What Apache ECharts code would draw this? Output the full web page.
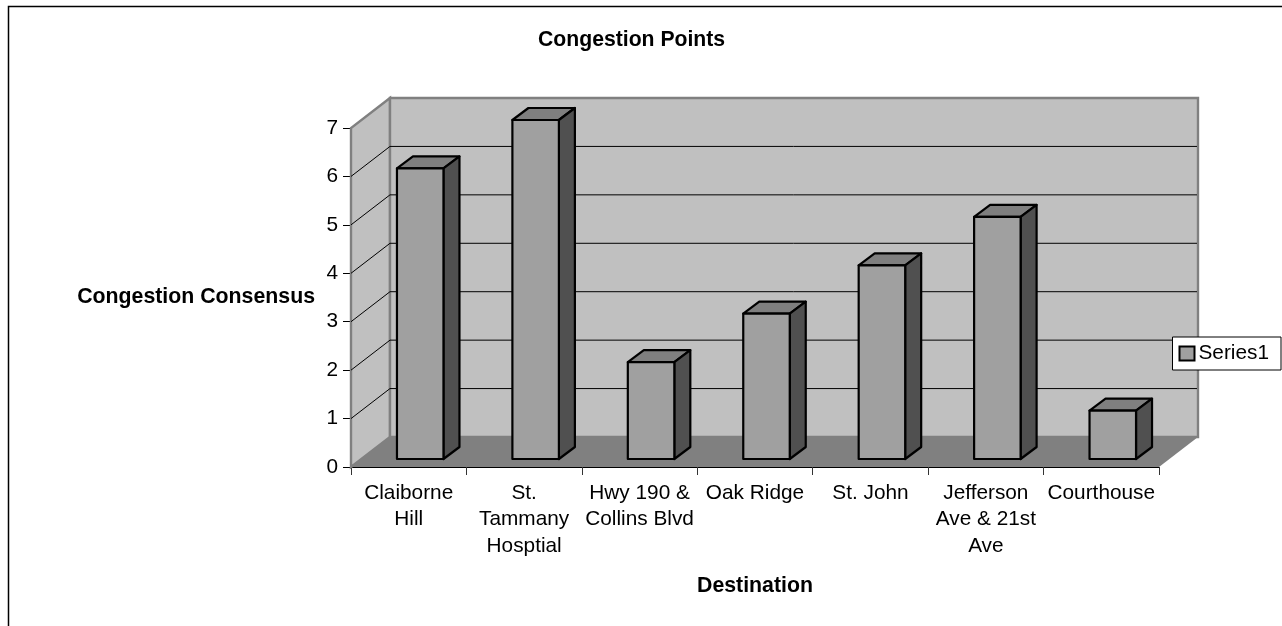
<!DOCTYPE html>
<html><head><meta charset="utf-8">
<style>html,body{margin:0;padding:0;background:#fff}#c{width:1282px;height:626px}</style>
<script src="https://cdn.jsdelivr.net/npm/echarts@6/dist/echarts.min.js"></script>
</head><body><div id="c"></div>
<script>
var categories = ['Claiborne\nHill','St.\nTammany\nHosptial','Hwy 190 &\nCollins Blvd','Oak Ridge','St. John','Jefferson\nAve & 21st\nAve','Courthouse'];
var values = [6,7,2,3,4,5,1];
var yTicks = [0,1,2,3,4,5,6,7];
var seriesName = 'Series1';
var FONT = '"Liberation Sans", Arial, sans-serif';

// 3D projection, expressed as fractions of one category width
var WALL_DX = 39/115.43, WALL_DY = 30/115.43;
var BAR_DX = 16/115.43, BAR_DY = 12/115.43;
var BAR_W = 46.5/115.43, BAR_SHIFT_X = 11.5/115.43, BAR_SHIFT_Y = 8/115.43;

function renderWalls(params, api){
  var cw = api.size([1,0])[0];
  var dx = WALL_DX*cw, dy = WALL_DY*cw;
  var n = categories.length, top = yTicks[yTicks.length-1];
  var a = api.coord([0,0]); a[0] -= cw/2;          // front-bottom-left
  var b = api.coord([0,top]); b[0] -= cw/2;        // front-top-left
  var c = api.coord([n-1,0]); c[0] += cw/2;        // front-bottom-right
  var wall = {stroke:'#808080', lineWidth:2.4, lineJoin:'miter'};
  var kids = [
    {type:'polygon', shape:{points:[a,b,[b[0]+dx,b[1]-dy],[a[0]+dx,a[1]-dy]]}, style:Object.assign({fill:'#c0c0c0'},wall)},
    {type:'polygon', shape:{points:[[b[0]+dx,b[1]-dy],[c[0]+dx,b[1]-dy],[c[0]+dx,c[1]-dy],[a[0]+dx,a[1]-dy]]}, style:Object.assign({fill:'#c0c0c0'},wall)},
    {type:'polygon', shape:{points:[a,[a[0]+dx,a[1]-dy],[c[0]+dx,c[1]-dy],c]}, style:{fill:'#808080'}}
  ];
  yTicks.forEach(function(t){
    if(t===0||t===top) return;
    var y = api.coord([0,t])[1];
    kids.push({type:'polyline', shape:{points:[[a[0],y],[a[0]+dx,y-dy],[c[0]+dx-1,y-dy]]}, style:{stroke:'#000',lineWidth:1,fill:null}});
  });
  return {type:'group', children:kids};
}
function renderBar(params, api){
  var cw = api.size([1,0])[0];
  var p0 = api.coord([api.value(0),0]), p1 = api.coord([api.value(0),api.value(1)]);
  var w = BAR_W*cw, l = p0[0]-cw/2+BAR_SHIFT_X*cw+(cw-w)/2, by = p0[1]-BAR_SHIFT_Y*cw, ty = p1[1]-BAR_SHIFT_Y*cw;
  var r = l+w, dx = BAR_DX*cw, dy = BAR_DY*cw;
  var st = {stroke:'#000', lineWidth:2.2, lineJoin:'round'};
  return {type:'group', children:[
    {type:'polygon', shape:{points:[[l,ty],[r,ty],[r+dx,ty-dy],[l+dx,ty-dy]]}, style:Object.assign({fill:'#7f7f7f'},st)},
    {type:'polygon', shape:{points:[[r,ty],[r+dx,ty-dy],[r+dx,by-dy],[r,by]]}, style:Object.assign({fill:'#505050'},st)},
    {type:'polygon', shape:{points:[[l,ty],[r,ty],[r,by],[l,by]]}, style:Object.assign({fill:'#a0a0a0'},st)}
  ]};
}
var chart = echarts.init(document.getElementById('c'), null, {renderer:'canvas'});
chart.setOption({
  animation:false, backgroundColor:'#fff',
  textStyle:{fontFamily:FONT},
  title:{text:'Congestion Points', left:533, top:25,
    textStyle:{fontFamily:FONT,fontSize:21.2,fontWeight:'bold',color:'#000'}},
  legend:{left:1172.5, top:337, orient:'horizontal', itemWidth:15, itemHeight:14, itemGap:0,
    backgroundColor:'#fff', borderColor:'#000', borderWidth:1, borderRadius:0, padding:[6,12,6,6],
    icon:'rect', data:[{name:seriesName, itemStyle:{color:'#a0a0a0',borderColor:'#000',borderWidth:2}}],
    textStyle:{fontFamily:FONT,fontSize:20.8,color:'#000',padding:[0,0,0,-1]}},
  grid:{left:351, right:123, top:128, bottom:159, containLabel:false, outerBoundsMode:'none'},
  xAxis:{type:'category', data:categories, boundaryGap:true,
    name:'Destination', nameLocation:'middle', nameGap:109,
    nameTextStyle:{fontFamily:FONT,fontSize:21.3,fontWeight:'bold',color:'#000'},
    axisLine:{lineStyle:{color:'#000',width:1}},
    axisTick:{show:true,length:8,alignWithLabel:false,lineStyle:{color:'#333'}},
    axisLabel:{interval:0,color:'#000',fontFamily:FONT,fontSize:20.8,lineHeight:26.5,margin:13},
    splitLine:{show:false}},
  yAxis:{type:'value', min:0, max:7, interval:1,
    name:'Congestion Consensus', nameLocation:'middle', nameRotate:0, nameGap:36,
    nameTextStyle:{fontFamily:FONT,fontSize:21.3,fontWeight:'bold',color:'#000'},
    axisLine:{show:true,lineStyle:{color:'#666',width:1.5}},
    axisTick:{show:true,length:8,lineStyle:{color:'#000'}},
    axisLabel:{color:'#000',fontFamily:FONT,fontSize:20.8,margin:13,padding:[4,0,0,0]},
    splitLine:{show:false}},
  graphic:[{type:'polyline', silent:true, z:-1, shape:{points:[[8.5,626],[8.5,6.5],[1282,6.5]]}, style:{stroke:'#000',lineWidth:1.5,fill:null}}],
  series:[
    {type:'custom', name:'walls', silent:true, z:1, clip:false, renderItem:renderWalls, data:[[0,0]], encode:{x:0,y:1}, legendHoverLink:false},
    {type:'custom', name:seriesName, z:3, clip:false, renderItem:renderBar, itemStyle:{color:'#a0a0a0'},
      data:values.map(function(v,i){return [i,v];}), encode:{x:0,y:1}}
  ]
});
</script></body></html>
